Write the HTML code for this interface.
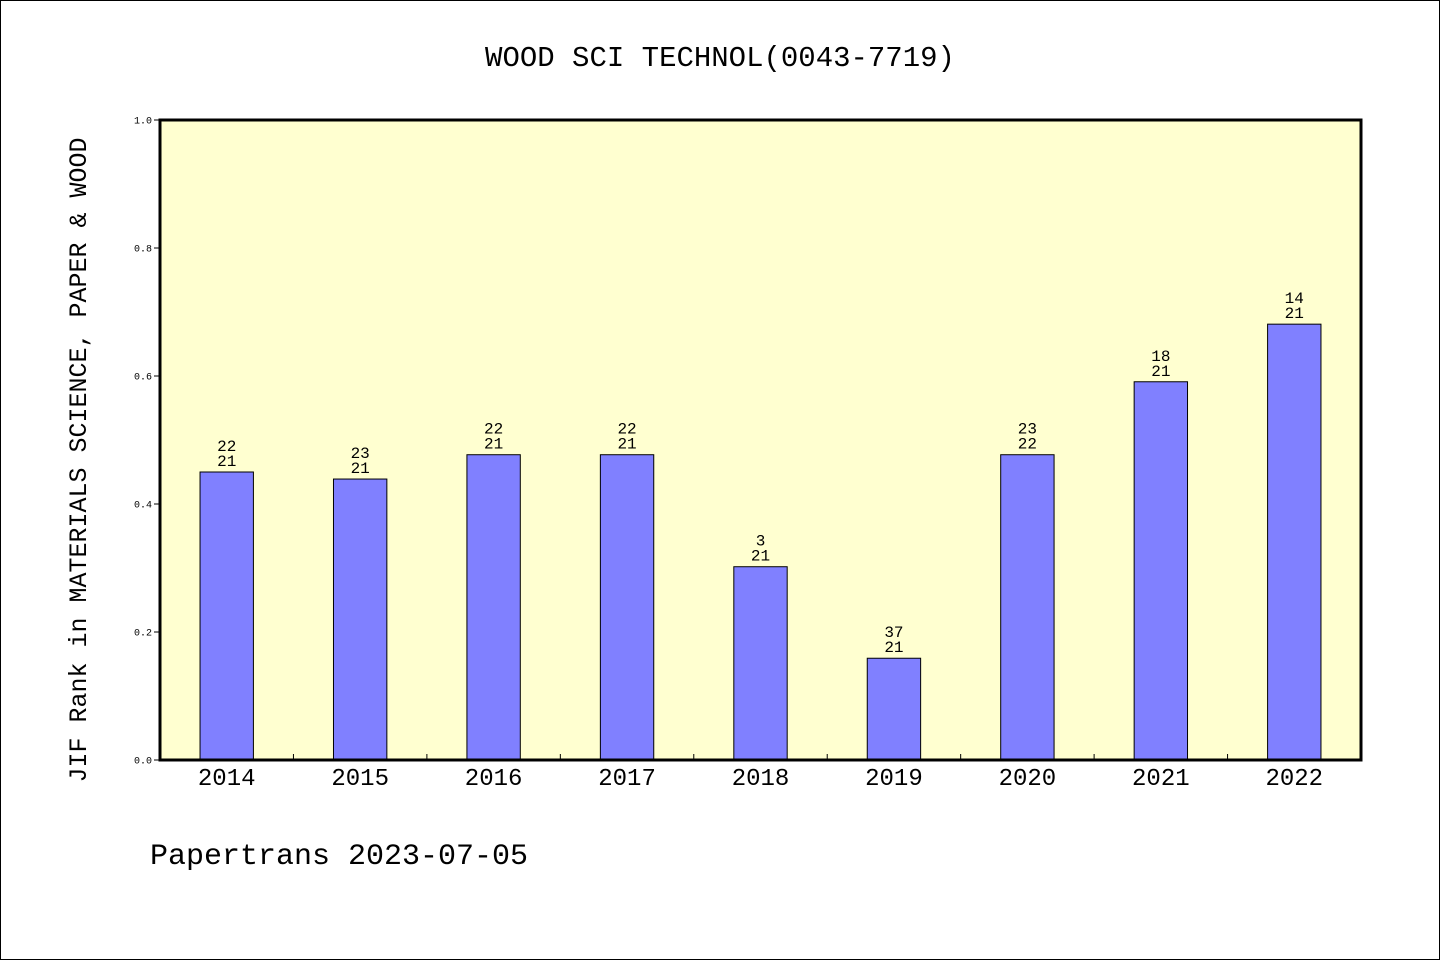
<!DOCTYPE html>
<html><head><meta charset="utf-8"><style>
html,body{margin:0;padding:0;background:#fff}
svg{display:block}
text{font-family:"Liberation Mono","WenQuanYi Zen Hei",monospace;fill:#000}
</style></head><body>
<svg id="chart" width="1440" height="960" viewBox="0 0 1440 960" xmlns="http://www.w3.org/2000/svg">
<rect x="0.5" y="0.5" width="1439" height="959" fill="#fff" stroke="#000"/>
<text x="720" y="66" font-size="29" text-anchor="middle">WOOD SCI TECHNOL(0043-7719)</text>
<rect x="160" y="120" width="1201" height="640" fill="#ffffd0"/>
<g id="grid"></g>
<g id="bars"></g>
<rect x="160" y="120" width="1201" height="640" fill="none" stroke="#000" stroke-width="3"/>
<text transform="translate(86,460) rotate(-90)" font-size="25" text-anchor="middle">JIF Rank in MATERIALS SCIENCE, PAPER &amp; WOOD</text>
<text x="150" y="864" font-size="30">Papertrans 2023-07-05</text>
</svg>
<script>
const categories=["2014","2015","2016","2017","2018","2019","2020","2021","2022"];
const values=[0.45,0.439,0.477,0.477,0.302,0.159,0.477,0.591,0.681];
const topLabels=["22","23","22","22","3","37","23","18","14"];
const bottomLabels=["21","21","21","21","21","21","22","21","21"];
const yTicks=[0,0.2,0.4,0.6,0.8,1.0];
const NS="http://www.w3.org/2000/svg";
const X0=160,W=1201,Y0=760,H=640;
const band=W/categories.length;
const y=v=>Y0-v*H;
const xc=i=>X0+band*(i+0.5);
function mk(tag,attrs,parent){const e=document.createElementNS(NS,tag);for(const k in attrs)e.setAttribute(k,attrs[k]);parent.appendChild(e);return e;}
const g=document.getElementById('grid'),b=document.getElementById('bars');
yTicks.forEach(t=>{
  const l=mk('line',{x1:154,x2:160,y1:y(t),y2:y(t),stroke:'#000'},g);
  
  
  const tx=mk('text',{x:152,y:y(t)+3.5,'font-size':10,'text-anchor':'end'},g);
  tx.textContent=t.toFixed(1);
  
  
});
for(let i=1;i<categories.length;i++){
  const l=mk('line',{x1:X0+band*i,x2:X0+band*i,y1:Y0,y2:Y0-6,stroke:'#000'},g);
  
  
}
categories.forEach((c,i)=>{
  const bw=band*0.4;
  const r=mk('rect',{x:xc(i)-bw/2,y:y(values[i]),width:bw,height:Y0-y(values[i]),fill:'#8080ff',stroke:'#000','stroke-width':1},b);
  
  
  const t1=mk('text',{x:xc(i),y:y(values[i])-21,'font-size':16,'text-anchor':'middle'},b);
  t1.textContent=topLabels[i];
  
  
  const t2=mk('text',{x:xc(i),y:y(values[i])-6,'font-size':16,'text-anchor':'middle'},b);
  t2.textContent=bottomLabels[i];
  
  
  const xl=mk('text',{x:xc(i),y:785,'font-size':24,'text-anchor':'middle'},b);
  xl.textContent=c;
  
  
});
</script>
</body></html>
